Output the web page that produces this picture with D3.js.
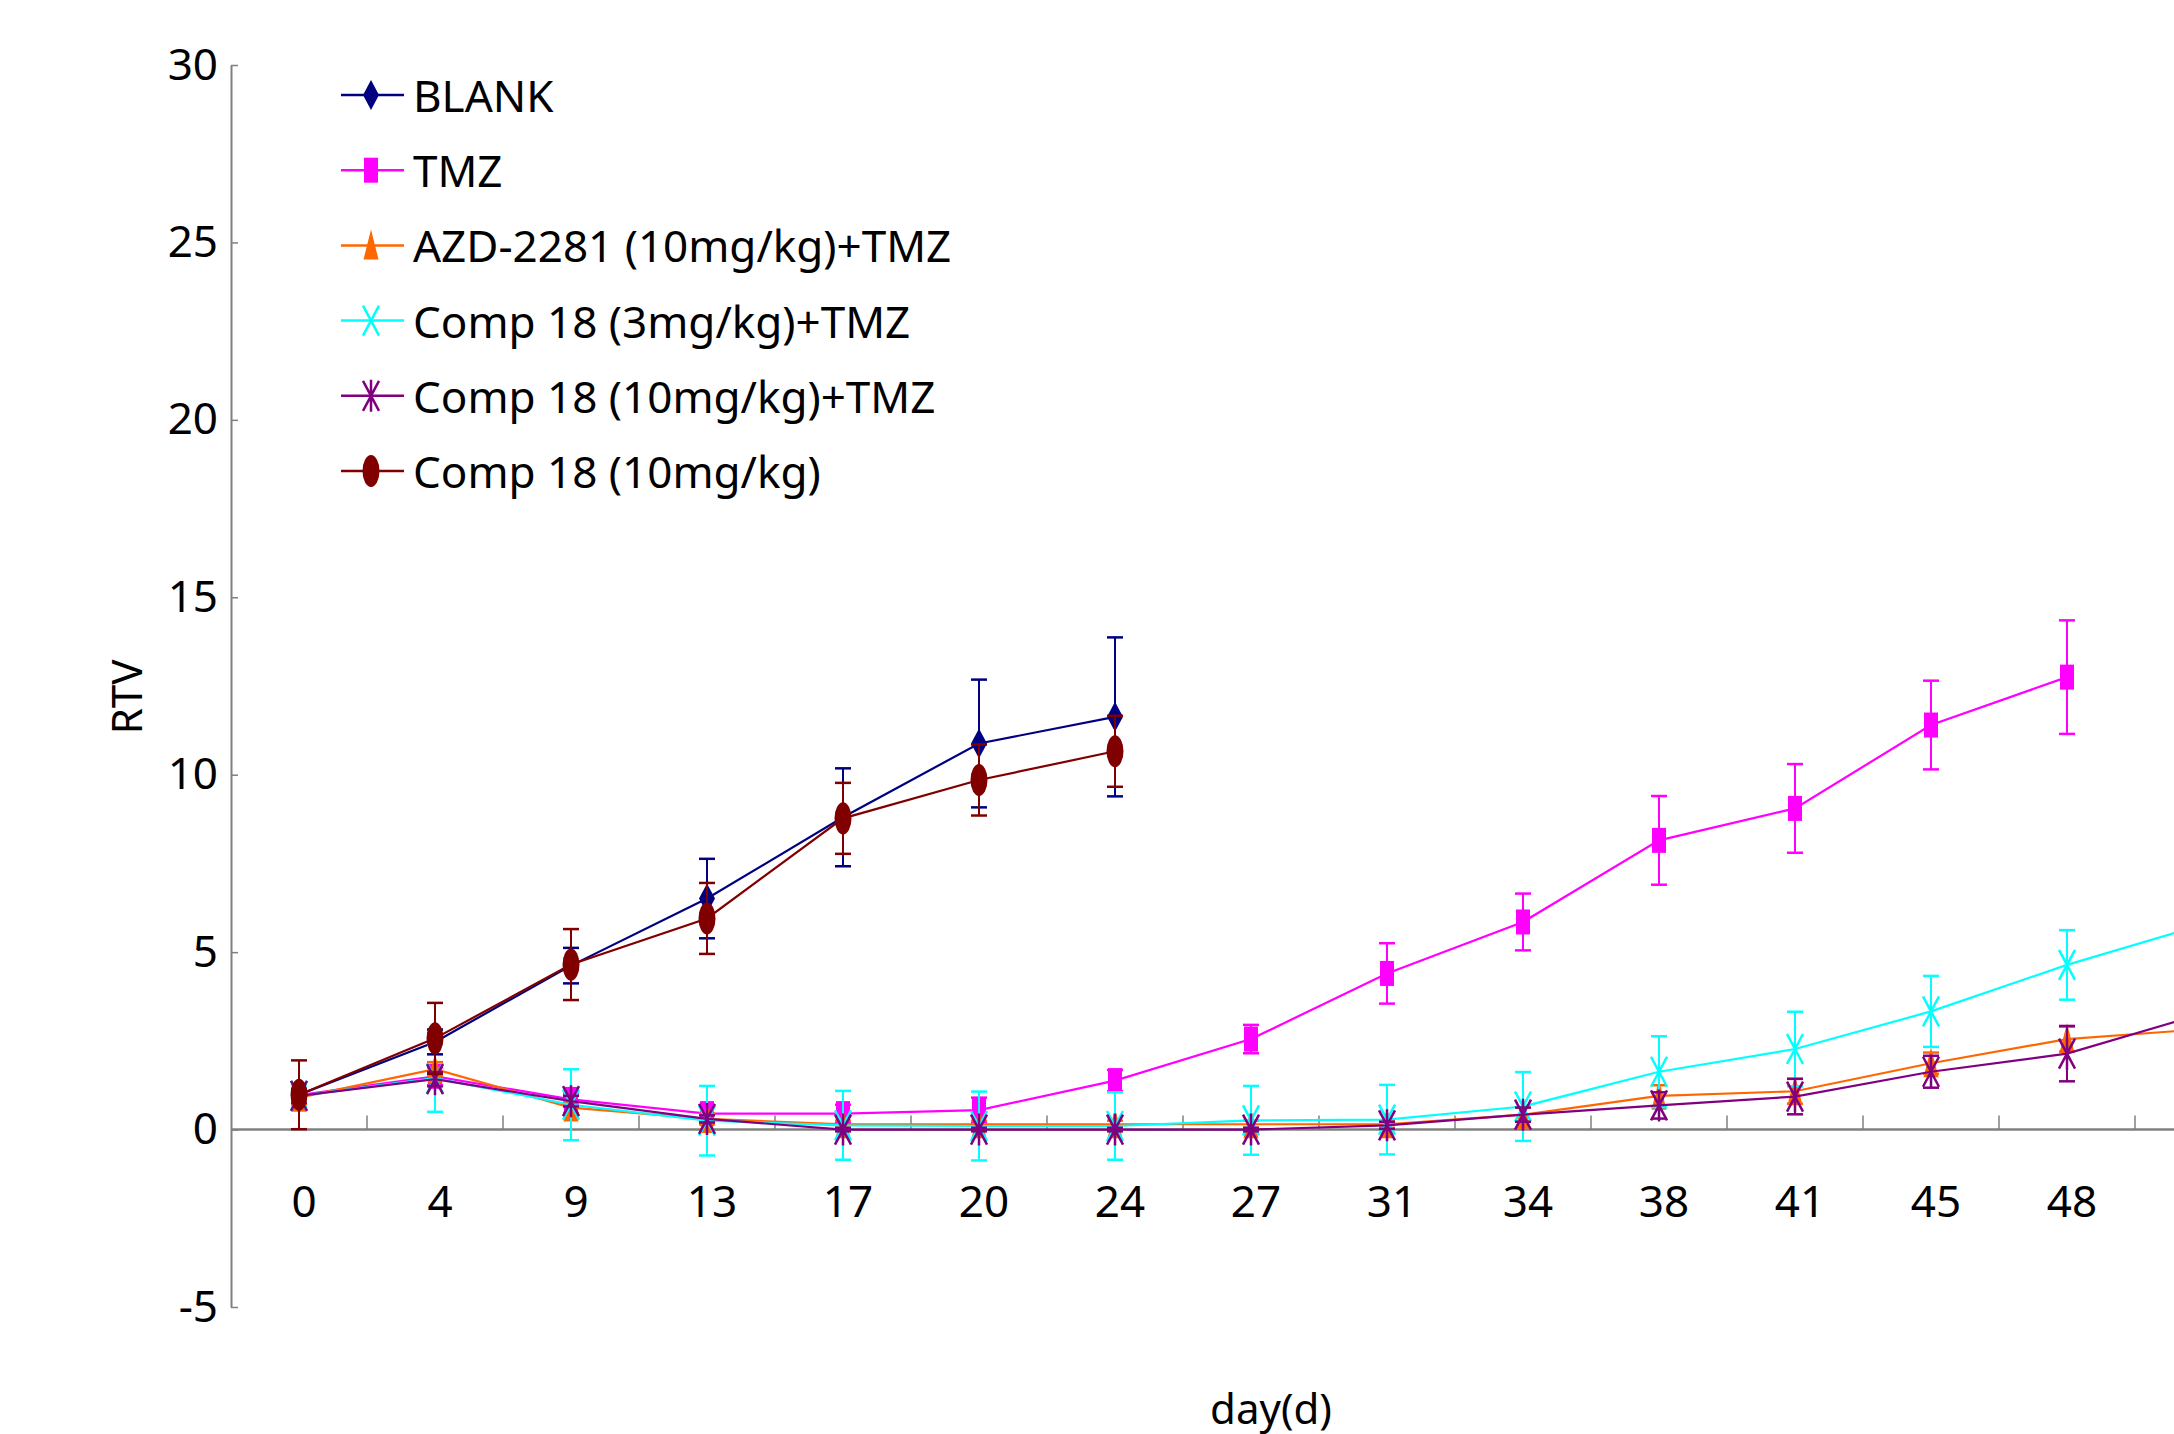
<!DOCTYPE html>
<html>
<head>
<meta charset="utf-8">
<script src="https://cdn.jsdelivr.net/npm/d3@7"></script>
<style>
  body { margin: 0; background: #fff; }
  svg { display: block; font-family: "Noto Sans", sans-serif; }
</style>
</head>
<body>
<div id="chart"></div>
<script>
// Width and height of the page
var width = 2174;
var height = 1434;

// x categories (days); the last one sits past the right edge
var days = ["0", "4", "9", "13", "17", "20", "24", "27", "31", "34", "38", "41", "45", "48", "52"];
var yTicks = [-5, 0, 5, 10, 15, 20, 25, 30];

// series values (RTV) and error bars
var blank      = [0.98, 2.47, 4.62, 6.51, 8.8, 10.88, 11.63];
var blankErr   = [0.3, 0.35, 0.5, 1.12, 1.38, 1.8, 2.24];
var tmz        = [0.97, 1.5, 0.85, 0.45, 0.45, 0.55, 1.38, 2.55, 4.4, 5.85, 8.15, 9.05, 11.4, 12.75];
var tmzErr     = [0.3, 0.25, 0.15, 0.2, 0.25, 0.35, 0.3, 0.4, 0.85, 0.8, 1.25, 1.25, 1.25, 1.6];
var azd        = [0.9, 1.7, 0.62, 0.3, 0.15, 0.15, 0.15, 0.15, 0.15, 0.42, 0.95, 1.08, 1.87, 2.55, 2.83];
var azdErr     = [0.2, 0.2, 0.15, 0.15, 0.1, 0.1, 0.1, 0.1, 0.1, 0.2, 0.3, 0.35, 0.3, 0.35, 0.3];
var comp3      = [0.95, 1.45, 0.7, 0.25, 0.12, 0.1, 0.1, 0.26, 0.28, 0.65, 1.63, 2.27, 3.33, 4.64, 5.78];
var comp3Err   = [0.3, 0.95, 1.0, 0.98, 0.97, 0.97, 0.95, 0.97, 0.98, 0.97, 1.0, 1.05, 1.0, 0.98, 1.0];
var comp10t    = [0.95, 1.42, 0.8, 0.3, 0.0, 0.0, 0.0, 0.0, 0.12, 0.42, 0.68, 0.93, 1.63, 2.14, 3.27];
var comp10tErr = [0.2, 0.2, 0.15, 0.1, 0.05, 0.05, 0.05, 0.05, 0.1, 0.2, 0.37, 0.5, 0.45, 0.78, 0.5];
var comp10     = [0.98, 2.57, 4.65, 5.95, 8.77, 9.85, 10.66];
var comp10Err  = [0.97, 1.0, 1.0, 1.0, 1.0, 1.0, 1.0];

var names  = ["BLANK", "TMZ", "AZD-2281 (10mg/kg)+TMZ", "Comp 18 (3mg/kg)+TMZ", "Comp 18 (10mg/kg)+TMZ", "Comp 18 (10mg/kg)"];
var colors = ["#000080", "#ff00ff", "#ff6600", "#00ffff", "#800080", "#800000"];
var shapes = ["diamond", "square", "triangle", "cross", "star", "ellipse"];

var series = [
    [blank, blankErr], [tmz, tmzErr], [azd, azdErr],
    [comp3, comp3Err], [comp10t, comp10tErr], [comp10, comp10Err]
].map(function(s, k) {
    return {
        name: names[k], color: colors[k], shape: shapes[k],
        points: s[0].map(function(v, i) { return { day: days[i], v: v, e: s[1][i] }; })
    };
});

// Scales
var x = d3.scaleBand()
    .domain(days)
    .range([231, 231 + 136 * days.length])
    .paddingInner(0).paddingOuter(0);
var cx = function(d) { return x(d) + x.bandwidth() / 2; };

var y = d3.scaleLinear()
    .domain([-5, 30])
    .range([1307, 65]);

var svg = d3.select("#chart")
    .append("svg")
    .attr("width", width)
    .attr("height", height);

// y axis (plain hyphen for negatives, as in the original)
var yAxis = svg.append("g")
    .attr("transform", "translate(231,0)")
    .call(d3.axisLeft(y).tickValues(yTicks)
        .tickFormat(function(d) { return String(d); })
        .tickSize(-7).tickPadding(13).tickSizeOuter(0));
yAxis.select(".domain").attr("stroke", "#808080").attr("stroke-width", 2);
yAxis.selectAll(".tick line").attr("stroke", "#808080").attr("stroke-width", 1.5);
yAxis.selectAll(".tick text")
    .attr("font-size", 44)
    .attr("font-family", "Noto Sans")
    .attr("fill", "#000");

// x axis line at y = 0 with band boundary ticks
var xg = svg.append("g");
xg.append("line")
    .attr("x1", 231).attr("x2", x.range()[1])
    .attr("y1", y(0)).attr("y2", y(0))
    .attr("stroke", "#808080").attr("stroke-width", 2.5);
xg.selectAll(".xt")
    .data(days.slice(1))
    .enter().append("line")
    .attr("x1", function(d) { return x(d); })
    .attr("x2", function(d) { return x(d); })
    .attr("y1", y(0)).attr("y2", y(0) - 14)
    .attr("stroke", "#808080").attr("stroke-width", 1.5);
// only labels whose position falls inside the page are shown
xg.selectAll(".xl")
    .data(days.filter(function(d) { return cx(d) + 40 < width; }))
    .enter().append("text")
    .attr("x", function(d) { return cx(d) + 5; })
    .attr("y", 1217)
    .attr("text-anchor", "middle")
    .attr("font-size", 44)
    .text(function(d) { return d; });

// axis titles
svg.append("text")
    .attr("transform", "translate(142,697) rotate(-90)")
    .attr("text-anchor", "middle")
    .attr("font-size", 42)
    .text("RTV");
svg.append("text")
    .attr("x", 1271).attr("y", 1424)
    .attr("text-anchor", "middle")
    .attr("font-size", 42)
    .text("day(d)");

// marker drawing
function marker(sel, shape, color) {
    if (shape === "diamond") {
        sel.append("path").attr("d", "M0,-15L8,0L0,15L-8,0Z").attr("fill", color);
    } else if (shape === "square") {
        sel.append("rect").attr("x", -7).attr("y", -12.5).attr("width", 14).attr("height", 25).attr("fill", color);
    } else if (shape === "triangle") {
        sel.append("path").attr("d", "M0,-16L7.5,14L-7.5,14Z").attr("fill", color);
    } else if (shape === "cross") {
        sel.append("path").attr("d", "M-8,-15L8,15M8,-15L-8,15").attr("stroke", color).attr("stroke-width", 2.5).attr("fill", "none");
    } else if (shape === "star") {
        sel.append("path").attr("d", "M-8,-15L8,15M8,-15L-8,15M0,-16L0,16").attr("stroke", color).attr("stroke-width", 2.5).attr("fill", "none");
    } else {
        sel.append("ellipse").attr("rx", 8.5).attr("ry", 16).attr("fill", color);
    }
}

var line = d3.line()
    .defined(function(d) { return d.v != null; })
    .x(function(d) { return cx(d.day); })
    .y(function(d) { return y(d.v); });

// draw each series: line, error bars, markers
series.forEach(function(s) {
    var g = svg.append("g");
    g.append("path")
        .datum(s.points)
        .attr("d", line)
        .attr("fill", "none")
        .attr("stroke", s.color)
        .attr("stroke-width", 2.2);

    var eb = g.selectAll(".eb")
        .data(s.points)
        .enter().append("g")
        .attr("transform", function(d) { return "translate(" + cx(d.day) + ",0)"; });
    eb.append("line")
        .attr("y1", function(d) { return y(d.v - d.e); })
        .attr("y2", function(d) { return y(d.v + d.e); })
        .attr("stroke", s.color).attr("stroke-width", 2);
    eb.append("line")
        .attr("x1", -8).attr("x2", 8)
        .attr("y1", function(d) { return y(d.v + d.e); })
        .attr("y2", function(d) { return y(d.v + d.e); })
        .attr("stroke", s.color).attr("stroke-width", 2.5);
    eb.append("line")
        .attr("x1", -8).attr("x2", 8)
        .attr("y1", function(d) { return y(d.v - d.e); })
        .attr("y2", function(d) { return y(d.v - d.e); })
        .attr("stroke", s.color).attr("stroke-width", 2.5);

    g.selectAll(".mk")
        .data(s.points)
        .enter().append("g")
        .attr("transform", function(d) { return "translate(" + cx(d.day) + "," + y(d.v) + ")"; })
        .each(function() { marker(d3.select(this), s.shape, s.color); });
});

// legend
var legend = svg.append("g");
series.forEach(function(s, i) {
    var ly = 95 + i * 75.2;
    legend.append("line")
        .attr("x1", 341).attr("x2", 404)
        .attr("y1", ly).attr("y2", ly)
        .attr("stroke", s.color).attr("stroke-width", 2.5);
    var m = legend.append("g").attr("transform", "translate(371," + ly + ")");
    marker(m, s.shape, s.color);
    legend.append("text")
        .attr("x", 413).attr("y", ly + 17)
        .attr("font-size", 44)
        .text(s.name);
});
</script>
</body>
</html>
